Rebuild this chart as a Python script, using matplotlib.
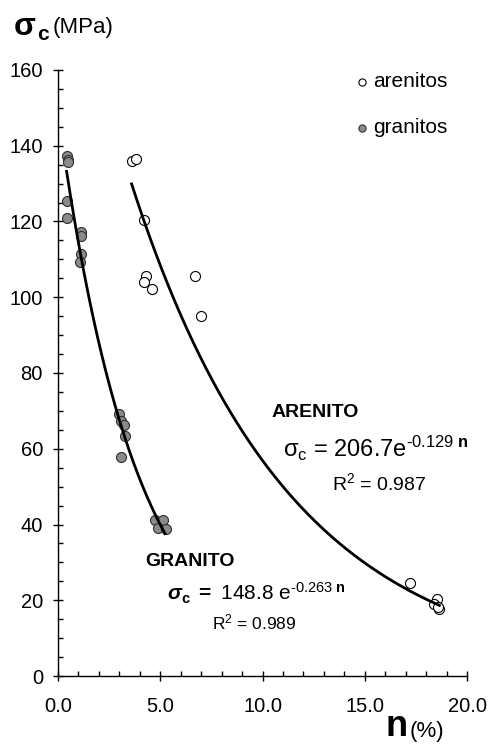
import numpy as np
import matplotlib
matplotlib.use("Agg")
import matplotlib.pyplot as plt
from matplotlib.ticker import MultipleLocator, FormatStrFormatter

plt.rcParams['font.family'] = ['Liberation Sans', 'DejaVu Sans']
plt.rcParams['mathtext.fontset'] = 'custom'
plt.rcParams['mathtext.rm'] = 'Liberation Sans'
plt.rcParams['mathtext.it'] = 'Liberation Sans:italic'
plt.rcParams['mathtext.bf'] = 'Liberation Sans:bold'
plt.rcParams['mathtext.bfit'] = 'Liberation Sans:bold:italic'

# ---- data ----
granito_n = [0.43, 0.47, 0.49, 0.43, 0.45, 1.12, 1.12, 1.11, 1.09,
             3.00, 3.08, 3.23, 3.28, 3.07, 4.74, 5.15, 4.90, 5.27]
granito_s = [137.3, 136.3, 135.6, 125.5, 120.9, 117.1, 116.1, 111.4, 109.3,
             69.1, 67.2, 66.3, 63.3, 57.9, 41.2, 41.2, 39.1, 38.9]

arenito_n = [3.60, 3.81, 4.21, 4.30, 4.21, 4.61, 6.71, 7.01,
             17.21, 18.52, 18.40, 18.63, 18.58]
arenito_s = [135.9, 136.4, 120.5, 105.5, 104.1, 102.3, 105.5, 95.1,
             24.6, 20.3, 19.0, 17.8, 18.3]

# trendline parameters (sigma_c = a * exp(-b n)) and their drawn range
granito_fit = (148.8, 0.263)
granito_range = (0.42, 5.23)
arenito_fit = (206.7, 0.129)
arenito_range = (3.6, 18.65)

xticks = [0.0, 5.0, 10.0, 15.0, 20.0]
yticks = [0, 20, 40, 60, 80, 100, 120, 140, 160]

# ---- figure ----
fig = plt.figure(figsize=(4.9, 7.44), dpi=100)
ax = fig.add_axes([58/490, 1-676/744, (467-58)/490, (676-70)/744])

ax.scatter(arenito_n, arenito_s, s=52, facecolor='white', edgecolor='black',
           linewidth=0.8, zorder=3, label='arenitos')
ax.scatter(granito_n, granito_s, s=52, facecolor='#8a8a8a', edgecolor='#303030',
           linewidth=0.8, zorder=3, label='granitos')

for (a, b), (x0, x1) in [(granito_fit, granito_range), (arenito_fit, arenito_range)]:
    xx = np.linspace(x0, x1, 200)
    ax.plot(xx, a*np.exp(-b*xx), color='black', lw=2.0, zorder=4)

ax.set_xlim(0, 20)
ax.set_ylim(0, 160)
ax.set_xticks(xticks)
ax.set_yticks(yticks)
ax.xaxis.set_major_formatter(FormatStrFormatter('%.1f'))
ax.xaxis.set_minor_locator(MultipleLocator(1))
ax.yaxis.set_minor_locator(MultipleLocator(5))
for s in ['top', 'right']:
    ax.spines[s].set_visible(False)
for s in ['left', 'bottom']:
    ax.spines[s].set_linewidth(1.0)
ax.tick_params(which='major', direction='inout', length=7.7, width=1.0,
               labelsize=14.5, pad=7.0)
ax.tick_params(which='minor', direction='in', length=3.5, width=1.0)
ax.tick_params(axis='x', which='major', pad=11.5)

leg = ax.legend(loc='upper left', bbox_to_anchor=(356/490, 1-72/744),
                bbox_transform=fig.transFigure, frameon=False, fontsize=15,
                handlelength=0.6, handletextpad=0.2, labelspacing=1.3,
                borderpad=0, borderaxespad=0, markerscale=0.72)

# axis titles
fig.text(14/490, 1-35/744, 'σ', fontsize=23, fontweight='bold', va='baseline', ha='left')
fig.text(37/490, 1-40/744, 'c', fontsize=15, fontweight='bold', va='baseline', ha='left')
fig.text(53/490, 1-33/744, '(MPa)', fontsize=16, va='baseline', ha='left')

fig.text(385/490, 0.0, 'n', fontsize=26, fontweight='bold', va='bottom', ha='left')
fig.text(410/490, 1-737/744, '(%)', fontsize=16, va='baseline', ha='left')

# annotations
ax.text(10.42, 69.6, 'ARENITO', fontsize=14, fontweight='bold', ha='left', va='center')
ax.text(11.0, 57.9, 'σ$_\\mathregular{c}$ = 206.7e$^{\\mathregular{\u20100.129}\\ \\mathbf{n}}$',
        fontsize=17, ha='left', va='baseline')
ax.text(13.4, 49.1, r'R$^\mathregular{2}$ = 0.987', fontsize=14, ha='left', va='baseline')

ax.text(4.29, 29.1, 'GRANITO', fontsize=14, fontweight='bold', ha='left', va='baseline')
ax.text(5.33, 19.85, '$\\mathbfit{σ}_{\\mathbf{c}}$ $\\mathbf{=}$ 148.8 e$^{\\mathregular{\u20100.263}\\ \\mathbf{n}}$',
        fontsize=15, ha='left', va='baseline')
ax.text(7.53, 12.4, r'R$^\mathregular{2}$ = 0.989', fontsize=12.5, ha='left', va='baseline')

fig.savefig('out.png', dpi=100)
